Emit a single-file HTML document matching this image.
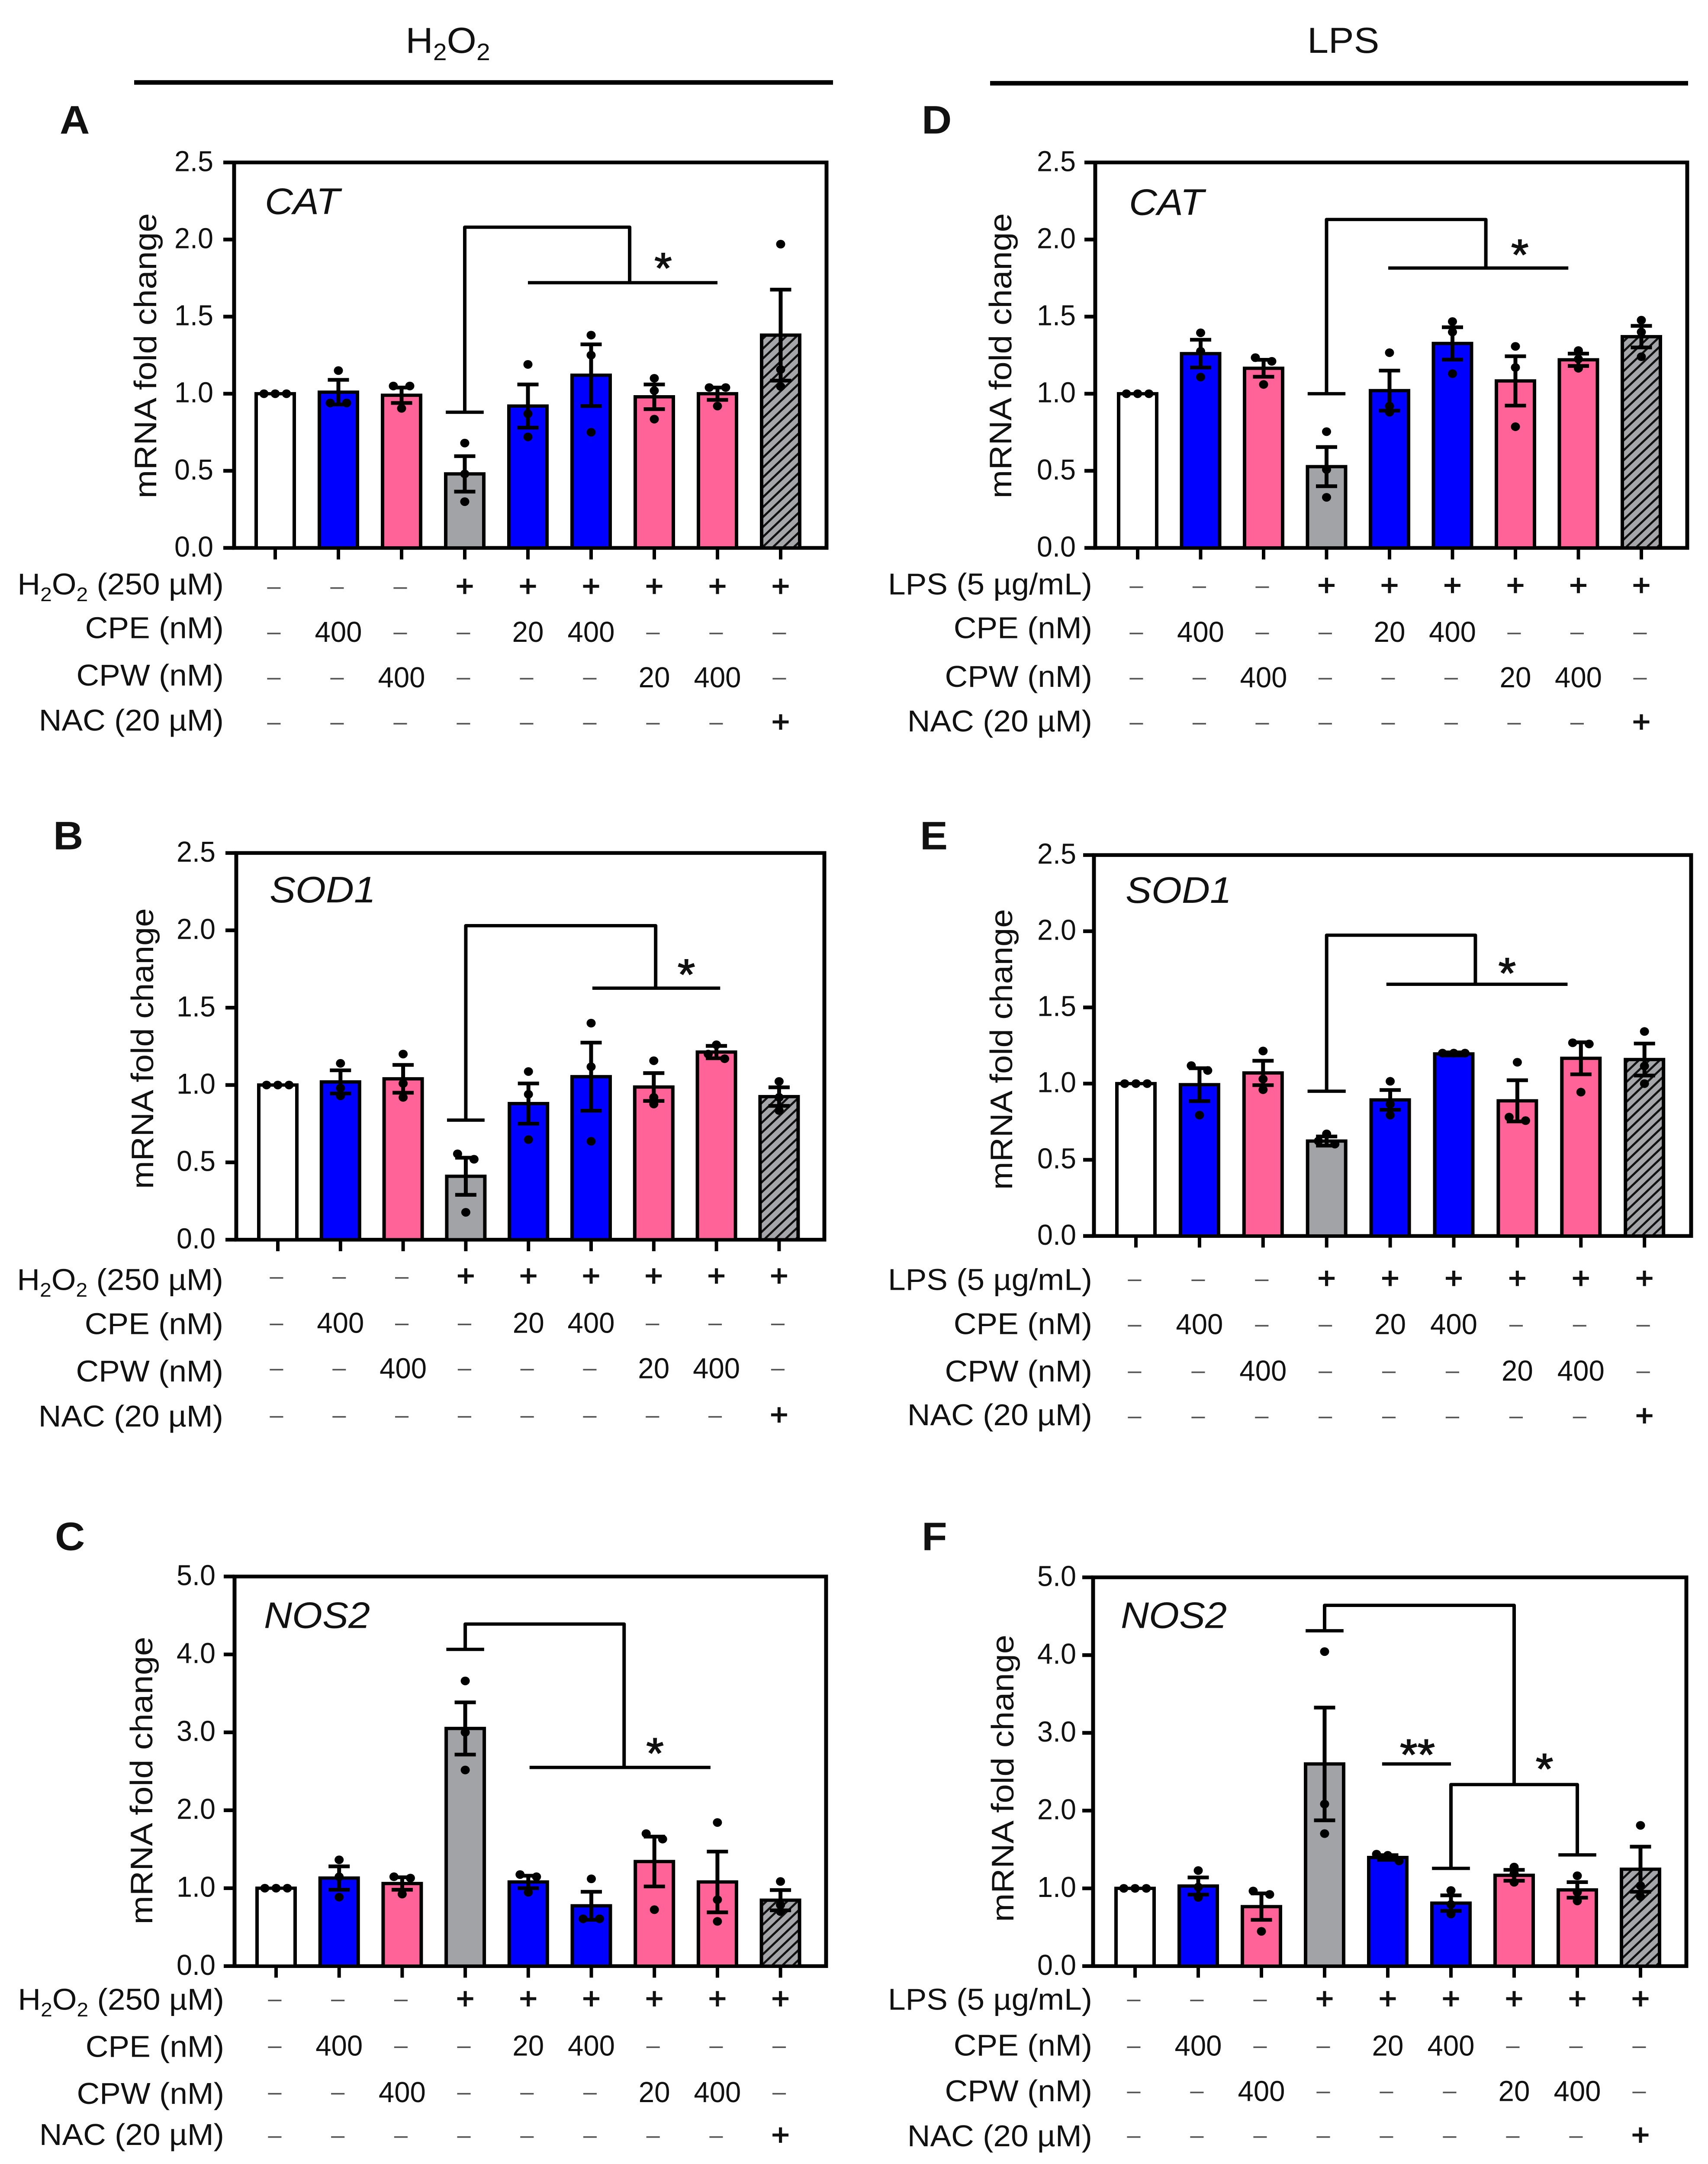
<!DOCTYPE html>
<html lang="en">
<head>
<meta charset="utf-8">
<title>mRNA fold change panels</title>
<style>
html,body{margin:0;padding:0;background:#fff;width:100%;height:100%;overflow:hidden;}
svg{display:block;width:100vw;height:100vh;}
text{font-family:"Liberation Sans",Arial,sans-serif;fill:#111;}
</style>
</head>
<body>
<svg id="figure" xmlns="http://www.w3.org/2000/svg" viewBox="0 0 3947 5249" preserveAspectRatio="none">
  <defs>
    <pattern id="hatch" patternUnits="userSpaceOnUse" width="17" height="17" patternTransform="rotate(-45)">
      <rect width="17" height="17" fill="#a5a6aa"></rect>
      <line x1="0" y1="8.5" x2="17" y2="8.5" stroke="#111" stroke-width="5"></line>
    </pattern>
  </defs>
  <rect width="3947" height="5249" fill="#fff"></rect>
  <text x="1035" y="128" font-size="88" text-anchor="middle">H<tspan font-size="57" dy="18">2</tspan><tspan dy="-18">O</tspan><tspan font-size="57" dy="18">2</tspan></text>
  <line x1="310" x2="1925" y1="200" y2="200" stroke="#000" stroke-width="11"></line>
  <text x="3021" y="128" font-size="88">LPS</text>
  <line x1="2288" x2="3901" y1="202" y2="202" stroke="#000" stroke-width="11"></line>
  <text x="138" y="324" font-size="96" font-weight="bold">A</text>
  <text x="123" y="2060" font-size="96" font-weight="bold">B</text>
  <text x="127" y="3760" font-size="96" font-weight="bold">C</text>
  <text x="2130" y="324" font-size="96" font-weight="bold">D</text>
  <text x="2126" y="2060" font-size="96" font-weight="bold">E</text>
  <text x="2130" y="3760" font-size="96" font-weight="bold">F</text>
</svg>
<script>
/* ---------- shared categories and tick labels ---------- */
const categories = ['control','CPE 400','CPW 400','stress','stress + CPE 20','stress + CPE 400','stress + CPW 20','stress + CPW 400','stress + NAC'];
const barKinds = ['white','blue','pink','gray','blue','blue','pink','pink','hatch'];
const ticksLow = [0.0,0.5,1.0,1.5,2.0,2.5];
const ticksHigh = [0.0,1.0,2.0,3.0,4.0,5.0];
const stressRow = ['–','–','–','+','+','+','+','+','+'];
const cpeRow = ['–','400','–','–','20','400','–','–','–'];
const cpwRow = ['–','–','400','–','–','–','20','400','–'];
const nacRow = ['–','–','–','–','–','–','–','–','+'];

/* ---------- panel A: H2O2 CAT ---------- */
const meansA = [1.0,1.01,0.99,0.48,0.92,1.12,0.98,1.0,1.38];
const semsA = [0,0.08,0.05,0.115,0.14,0.2,0.08,0.04,0.295];
const pointsA = [[1,1,1],[1.15,0.94,0.94],[1.05,1.05,0.905],[0.68,0.48,0.30],[1.19,0.87,0.72],[1.38,1.25,0.75],[1.10,1.02,0.835],[1.04,1.04,0.92],[1.97,1.157,1.047]];
const bracketsA = [[[2.7,0.88],[3.3,0.88]],[[3,0.88],[3,2.08],[5.61,2.08],[5.61,1.72]],[[4,1.72],[7,1.72]]];
const starsA = [[6.14,1.88,'*']];

/* ---------- panel B: H2O2 SOD1 ---------- */
const meansB = [1.0,1.02,1.04,0.41,0.88,1.054,0.987,1.213,0.925];
const semsB = [0,0.075,0.09,0.12,0.13,0.22,0.09,0.04,0.06];
const pointsB = [[1,1,1],[1.14,0.98,0.93],[1.20,1.01,0.92],[0.555,0.52,0.177],[1.087,0.94,0.647],[1.40,1.118,0.636],[1.157,0.92,0.877],[1.26,1.2,1.17],[1.023,0.92,0.835]];
const bracketsB = [[[2.7,0.773],[3.3,0.773]],[[3,0.773],[3,2.03],[6.03,2.03],[6.03,1.626]],[[5.02,1.626],[7.06,1.626]]];
const starsB = [[6.52,1.78,'*']];

/* ---------- panel C: H2O2 NOS2 ---------- */
const meansC = [1.0,1.13,1.06,3.05,1.08,0.774,1.342,1.08,0.846];
const semsC = [0,0.15,0.08,0.335,0.08,0.18,0.32,0.39,0.13];
const pointsC = [[1,1,1],[1.364,1.147,0.885],[1.147,1.13,0.924],[3.66,3.0,2.517],[1.175,1.147,0.947],[1.12,0.607,0.607],[1.70,1.63,0.724],[1.843,0.852,0.574],[1.086,0.785,0.70]];
const bracketsC = [[[2.7,4.065],[3.3,4.065]],[[3,4.065],[3,4.39],[5.52,4.39],[5.52,2.55]],[[4.02,2.55],[6.89,2.55]]];
const starsC = [[6.01,2.86,'*']];

/* ---------- panel D: LPS CAT ---------- */
const meansD = [1.0,1.26,1.165,0.527,1.02,1.326,1.083,1.22,1.37];
const semsD = [0,0.09,0.055,0.127,0.13,0.105,0.16,0.04,0.07];
const pointsD = [[1,1,1],[1.395,1.275,1.108],[1.234,1.21,1.06],[0.754,0.508,0.328],[1.266,0.92,0.88],[1.468,1.40,1.13],[1.307,1.17,0.786],[1.28,1.225,1.165],[1.477,1.40,1.24]];
const bracketsD = [[[2.7,1.0],[3.3,1.0]],[[3,1.0],[3,2.13],[5.53,2.13],[5.53,1.815]],[[3.98,1.815],[6.84,1.815]]];
const starsD = [[6.07,1.966,'*']];

/* ---------- panel E: LPS SOD1 ---------- */
const meansE = [1.0,0.993,1.07,0.623,0.893,1.195,0.887,1.166,1.158];
const semsE = [0,0.108,0.08,0.03,0.065,0.01,0.135,0.105,0.105];
const pointsE = [[1,1,1],[1.118,1.086,0.793],[1.214,1.03,0.96],[0.67,0.623,0.603],[1.015,0.865,0.793],[1.2,1.2,1.2],[1.14,0.78,0.757],[1.268,1.26,0.944],[1.342,1.115,1.0]];
const bracketsE = [[[2.7,0.95],[3.3,0.95]],[[3,0.95],[3,1.974],[5.34,1.974],[5.34,1.652]],[[3.94,1.652],[6.79,1.652]]];
const starsE = [[5.84,1.79,'*']];

/* ---------- panel F: LPS NOS2 ---------- */
const meansF = [1.0,1.03,0.765,2.60,1.397,0.81,1.168,0.98,1.246];
const semsF = [0,0.11,0.17,0.725,0.03,0.1,0.07,0.1,0.29];
const pointsF = [[1,1,1],[1.229,1.017,0.883],[0.966,0.922,0.447],[4.045,2.084,1.704],[1.44,1.425,1.352],[0.972,0.793,0.67],[1.274,1.19,1.078],[1.162,0.95,0.838],[1.81,1.034,0.894]];
const bracketsF = [[[2.7,4.313],[3.3,4.313]],[[3,4.313],[3,4.64],[6,4.64],[6,2.335]],[[5,1.257],[5,2.335],[7,2.335],[7,1.43]],[[4.7,1.257],[5.3,1.257]],[[6.7,1.43],[7.3,1.43]],[[3.91,2.6],[5,2.6]]];
const starsF = [[4.47,2.85,'**'],[6.48,2.665,'*']];

/* ---------- layout (pixels) ---------- */
const stressH2O2 = [['H'],['2',1],['O'],['2',1],[' (250 µM)']];
const stressLPS = [['LPS (5 µg/mL)']];
const panels = [
  {id:'a',gene:'CAT',means:meansA,sems:semsA,points:pointsA,brackets:bracketsA,stars:starsA,ticks:ticksLow,stress:stressH2O2,
   L:541,R:1910,T:394,B:1329,x0:636,step:146,tickLabelX:493,titleX:361,titleY0:517,titleY1:1209,geneX:612,geneY:519,labelX:517,
   labelRows:[1416,1522,1637,1746],valueRows:[1426,1536,1646,1755]},
  {id:'b',gene:'SOD1',means:meansB,sems:semsB,points:pointsB,brackets:bracketsB,stars:starsB,ticks:ticksLow,stress:stressH2O2,
   L:546,R:1905,T:2069,B:3007,x0:642,step:144.8,tickLabelX:498,titleX:354,titleY0:2203,titleY1:2884,geneX:623,geneY:2189,labelX:516,
   labelRows:[3103,3210,3325,3434],valueRows:[3099,3212,3322,3436]},
  {id:'c',gene:'NOS2',means:meansC,sems:semsC,points:pointsC,brackets:bracketsC,stars:starsC,ticks:ticksHigh,stress:stressH2O2,
   L:542,R:1909,T:3824,B:4769,x0:638,step:145.7,tickLabelX:498,titleX:352,titleY0:3970,titleY1:4668,geneX:610,geneY:3949,labelX:518,
   labelRows:[4849,4963,5077,5177],valueRows:[4852,4965,5078,5183]},
  {id:'d',gene:'CAT',means:meansD,sems:semsD,points:pointsD,brackets:bracketsD,stars:starsD,ticks:ticksLow,stress:stressLPS,
   L:2531,R:3899,T:394,B:1329,x0:2629,step:145.5,tickLabelX:2486,titleX:2337,titleY0:517,titleY1:1209,geneX:2609,geneY:521,labelX:2524,
   labelRows:[1416,1522,1640,1748],valueRows:[1424,1536,1646,1755]},
  {id:'e',gene:'SOD1',means:meansE,sems:semsE,points:pointsE,brackets:bracketsE,stars:starsE,ticks:ticksLow,stress:stressLPS,
   L:2528,R:3908,T:2074,B:2998,x0:2625,step:146.9,tickLabelX:2487,titleX:2339,titleY0:2205,titleY1:2886,geneX:2601,geneY:2190,labelX:2524,
   labelRows:[3103,3210,3325,3431],valueRows:[3105,3215,3328,3438]},
  {id:'f',gene:'NOS2',means:meansF,sems:semsF,points:pointsF,brackets:bracketsF,stars:starsF,ticks:ticksHigh,stress:stressLPS,
   L:2526,R:3897,T:3826,B:4769,x0:2623,step:146,tickLabelX:2487,titleX:2342,titleY0:3965,titleY1:4662,geneX:2590,geneY:3949,labelX:2524,
   labelRows:[4849,4960,5071,5180],valueRows:[4852,4965,5075,5183]}
];
const fills = {white:'#ffffff',blue:'#0000ff',pink:'#ff6398',gray:'#a2a3a7',hatch:'url(#hatch)'};

const NS = 'http://www.w3.org/2000/svg';
const svg = document.getElementById('figure');
function make(tag, attrs, parent, txt) {
  const node = document.createElementNS(NS, tag);
  for (const k in attrs) node.setAttribute(k, attrs[k]);
  if (txt !== undefined) node.textContent = txt;
  parent.appendChild(node);
  return node;
}

function swarmOffsets(values, yScale) {
  const order = values.map((v, i) => i).sort((a, b) => yScale(values[a]) - yScale(values[b]));
  const offsets = new Array(values.length).fill(0);
  let group = [order[0]];
  const flush = () => {
    const n = group.length;
    const gap = n === 2 ? 38 : 26;
    group.forEach((idx, k) => { offsets[idx] = (k - (n - 1) / 2) * gap; });
  };
  for (let k = 1; k < order.length; k++) {
    if (Math.abs(yScale(values[order[k]]) - yScale(values[group[group.length - 1]])) < 14) {
      group.push(order[k]);
    } else { flush(); group = [order[k]]; }
  }
  flush();
  return offsets;
}

panels.forEach(p => {
  const xScale = i => p.x0 + i * p.step;
  const yMax = p.ticks[p.ticks.length - 1];
  const yScale = v => p.B - (v / yMax) * (p.B - p.T);
  const barW = 88, capHalf = 24.5;

  const g = make('g', {}, svg);
  
  

  /* frame */
  const frame = make('rect', {x:p.L,y:p.T,width:p.R-p.L,height:p.B-p.T,fill:'none',stroke:'#000','stroke-width':9}, g);
  
  

  /* gene label */
  const gene = make('text', {x:p.geneX,y:p.geneY,'font-size':90,'font-style':'italic'}, g, p.gene);
  
  

  /* y axis */
  p.ticks.forEach(t => {
    const y = yScale(t);
    const tick = make('line', {x1:p.L-25,x2:p.L,y1:y,y2:y,stroke:'#000','stroke-width':9}, g);
    
    
    const lab = make('text', {x:p.tickLabelX,y:y+21,'font-size':70,'text-anchor':'end',textLength:90,lengthAdjust:'spacingAndGlyphs'}, g, t.toFixed(1));
    
    
  });
  const title = make('text', {'font-size':72,'text-anchor':'middle',textLength:p.titleY1-p.titleY0,lengthAdjust:'spacingAndGlyphs',
    transform:'translate(' + p.titleX + ',' + ((p.titleY0+p.titleY1)/2) + ') rotate(-90)'}, g, 'mRNA fold change');
  
  

  /* bars, error bars, points */
  categories.forEach((c, i) => {
    const x = xScale(i), top = yScale(p.means[i]);
    const tick = make('line', {x1:x,x2:x,y1:p.B,y2:p.B+28,stroke:'#000','stroke-width':8}, g);
    
    
    const bar = make('rect', {x:x-barW/2,y:top,width:barW,height:p.B-top,fill:fills[barKinds[i]],stroke:'#000','stroke-width':8}, g);
    
    
  });
  categories.forEach((c, i) => {
    const x = xScale(i), sem = p.sems[i], mean = p.means[i];
    if (sem > 0) {
      const hi = yScale(mean + sem), lo = yScale(mean - sem);
      const err = make('path', {d:'M'+(x-capHalf)+' '+hi+'H'+(x+capHalf)+'M'+x+' '+hi+'V'+lo+'M'+(x-capHalf)+' '+lo+'H'+(x+capHalf),fill:'none',stroke:'#000','stroke-width':9}, g);
      
      
    }
    const offs = swarmOffsets(p.points[i], yScale);
    p.points[i].forEach((v, k) => {
      const dot = make('circle', {cx:x+offs[k],cy:yScale(v),r:10.5,fill:'#000'}, g);
      
      
    });
  });

  /* significance brackets */
  p.brackets.forEach(b => {
    const d = b.map((pt, k) => (k ? 'L' : 'M') + xScale(pt[0]) + ' ' + yScale(pt[1])).join('');
    const line = make('path', {d:d,fill:'none',stroke:'#000','stroke-width':8,'stroke-linejoin':'round'}, g);
    
    
  });
  p.stars.forEach(s => {
    const star = make('text', {x:xScale(s[0]),y:yScale(s[1])+60,'font-size':104,'text-anchor':'middle'}, g, s[2]);
    star.setAttribute('style', 'stroke:#111;stroke-width:2');
    
    
  });

  /* treatment table */
  const rowTexts = [p.stress, [['CPE (nM)']], [['CPW (nM)']], [['NAC (20 µM)']]];
  const rowValues = [stressRow, cpeRow, cpwRow, nacRow];
  rowTexts.forEach((segs, r) => {
    const label = make('text', {x:p.labelX,y:p.labelRows[r]+26,'font-size':73,'text-anchor':'end'}, g);
    
    
    let sub = false;
    segs.forEach(seg => {
      const attrs = {};
      if (seg[1]) { attrs['font-size'] = 48; attrs.dy = 16; sub = true; }
      else if (sub) { attrs.dy = -16; sub = false; }
      make('tspan', attrs, label, seg[0]);
    });
    rowValues[r].forEach((val, i) => {
      const x = xScale(i);
      const isDash = val === '–', isPlus = val === '+';
      let cell;
      if (isDash) {
        cell = make('text', {x:x-3,y:p.valueRows[r]+15,'font-size':56,'text-anchor':'middle'}, g, val);
        cell.setAttribute('style', 'fill:#555');
      } else if (isPlus) {
        cell = make('text', {x:x,y:p.valueRows[r]+20,'font-size':72,'text-anchor':'middle'}, g, val);
        cell.setAttribute('style', 'stroke:#111;stroke-width:2');
      } else {
        cell = make('text', {x:x,y:p.valueRows[r]+21,'font-size':70,'text-anchor':'middle',textLength:val.length===3?109:73,lengthAdjust:'spacingAndGlyphs'}, g, val);
      }
      
      
    });
  });
});
</script>
</body>
</html>
